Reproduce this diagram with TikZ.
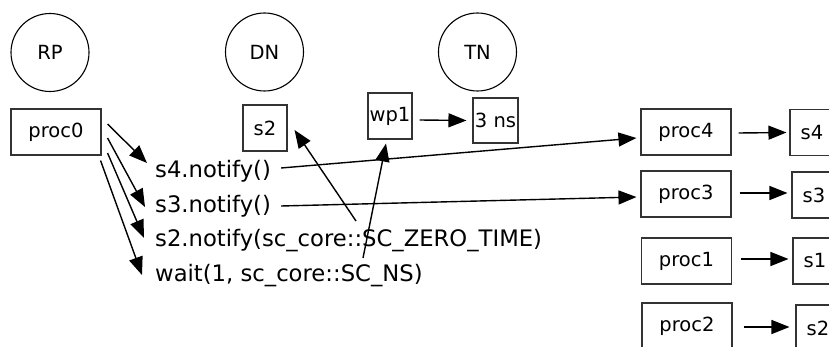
\documentclass[tikz,border=0pt]{standalone}
\usepackage{fontspec}
\setmainfont{DejaVu Sans}
\usetikzlibrary{arrows.meta}

\tikzset{
  lbl/.style={font=\fontsize{19.5}{23}\selectfont},
  stage/.style={draw, circle, line width=1.1pt, minimum size=78pt, inner sep=0pt, lbl},
  box/.style={draw=black!80, line width=1.1pt, minimum height=46pt, inner sep=0pt, lbl},
  wbox/.style={box, minimum width=90pt},
  nbox/.style={box, minimum width=44pt},
  call/.style={anchor=base west, inner sep=0pt, font=\fontsize{22.7}{27}\selectfont},
  arr/.style={line width=1.4pt, -{Triangle[length=18pt,width=14pt]}},
}

\begin{document}
\begin{tikzpicture}[x=1pt, y=-1pt]
  \useasboundingbox (0,0) rectangle (829,347);

  % scheduler phases
  \node[stage] (rp) at (50,52.5) {RP};
  \node[stage] (dn) at (264.5,52) {DN};
  \node[stage] (tn) at (477.5,52) {TN};

  % running process and pending notifications
  \node[wbox] (proc0) at (56,132) {proc0};
  \node[nbox] (dns2) at (265,128) {s2};
  \node[nbox] (wp1) at (390,116) {wp1};
  \node[nbox, minimum width=45pt, minimum height=45pt] (ns3) at (495.5,120.5) {3 ns};

  % statements executed by proc0
  \node[call] (t4) at (155,178) {s4.notify()};
  \node[call] (t3) at (155,213) {s3.notify()};
  \node[call] (t2) at (155,247) {s2.notify(sc\_core::SC\_ZERO\_TIME)};
  \node[call] (tw) at (155,281) {wait(1, sc\_core::SC\_NS)};

  % sensitive processes and their events
  \node[wbox] (proc4) at (686,132) {proc4};
  \node[nbox] (s4) at (812,132.5) {s4};
  \node[wbox] (proc3) at (686,194) {proc3};
  \node[nbox] (s3) at (814,195) {s3};
  \node[wbox] (proc1) at (686.5,261) {proc1};
  \node[nbox] (s1) at (815,261) {s1};
  \node[wbox] (proc2) at (687,326) {proc2};
  \node[nbox] (s2r) at (818,328) {s2};

  % proc0 executes the statements
  \draw[arr] ([shift={(6,-8)}]proc0.east) -- ([shift={(-8,-15)}]t4.base west);
  \draw[arr] ([shift={(6,6)}]proc0.east) -- ([shift={(-10,-6)}]t3.base west);
  \draw[arr] ([shift={(6,21)}]proc0.east) -- ([shift={(-11,-9)}]t2.base west);
  \draw[arr] ([shift={(-1,5)}]proc0.south east) -- ([shift={(-13,-6)}]tw.base west);

  % immediate notifications wake processes
  \draw[arr] ([shift={(10,-10)}]t4.base east) -- ([shift={(-4,6)}]proc4.west);
  \draw[arr] ([shift={(10,-7)}]t3.base east) -- ([shift={(-4,3)}]proc3.west);

  % delta and timed notifications
  \draw[arr] ([shift={(201,-26)}]t2.base west) -- ([shift={(7,2)}]dns2.east);
  \draw[arr] ([shift={(208,-23)}]tw.base west) -- ([shift={(-4,4)}]wp1.south);
  \draw[arr] ([shift={(7,4)}]wp1.east) -- ([shift={(-6,0)}]ns3.west);

  % processes and their events
  \draw[arr] ([shift={(7,1)}]proc4.east) -- ([shift={(-3,0)}]s4.west);
  \draw[arr] ([shift={(8,-1)}]proc3.east) -- ([shift={(-4,-2)}]s3.west);
  \draw[arr] ([shift={(9,-2)}]proc1.east) -- ([shift={(-4,-2)}]s1.west);
  \draw[arr] ([shift={(11,1)}]proc2.east) -- ([shift={(-6,-1)}]s2r.west);
\end{tikzpicture}
\end{document}
